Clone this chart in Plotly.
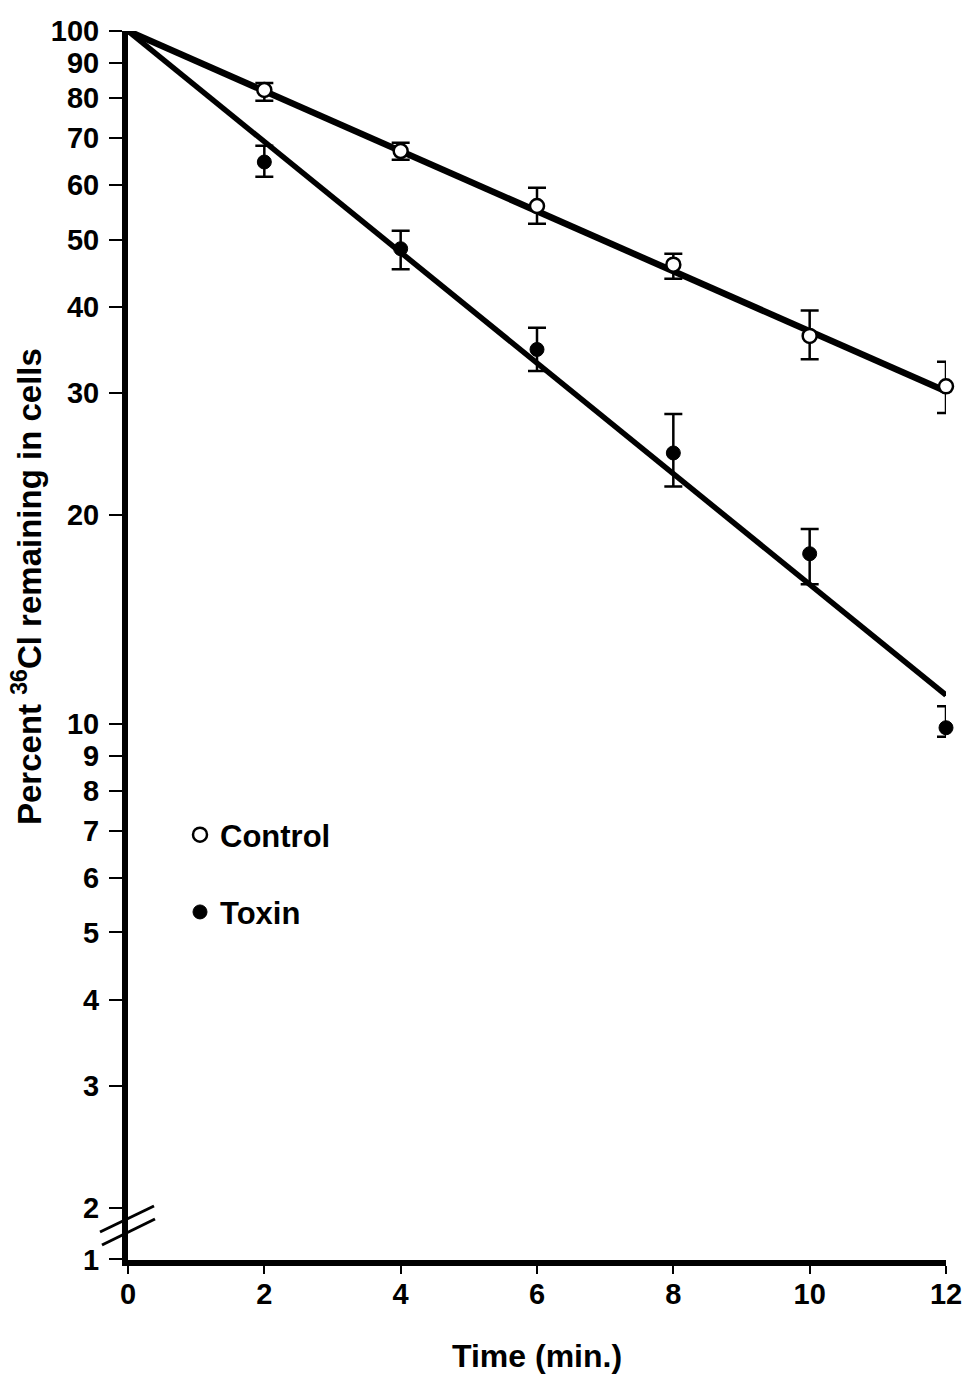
import math
import plotly.graph_objects as go

# ---------------- data ----------------
time_min = [2, 4, 6, 8, 10, 12]

control_pct = [82.2, 67.1, 55.9, 46.0, 36.3, 30.7]
control_hi = [84.1, 69.0, 59.4, 47.7, 39.5, 33.3]
control_lo = [79.3, 65.2, 52.7, 43.9, 33.6, 28.1]

toxin_pct = [64.7, 48.5, 34.7, 24.6, 17.6, 9.87]
toxin_hi = [68.3, 51.5, 37.3, 28.0, 19.1, 10.6]
toxin_lo = [61.6, 45.3, 32.3, 22.0, 15.9, 9.58]

fit_time = [0, 12]
control_fit = [100, 30.2]
toxin_fit = [100, 11.0]

x_ticks = [0, 2, 4, 6, 8, 10, 12]
y_ticks = [2, 3, 4, 5, 6, 7, 8, 9, 10, 20, 30, 40, 50, 60, 70, 80, 90, 100]
y_break_label = "1"          # label drawn at the bottom of the broken axis
y_axis_bottom = 1.683        # axis value at the bottom end (below the break)

# ---------------- geometry ----------------
W, H = 965, 1377
ML, MR, MT, MB = 128, 19, 31, 117
PW, PH = W - ML - MR, H - MT - MB


def px(x):
    return (x - ML) / PW


def py(y):
    return (H - MB - y) / PH


FONT = "Liberation Sans, Arial, sans-serif"

fig = go.Figure()

# fitted lines
fig.add_trace(go.Scatter(x=fit_time, y=control_fit, mode="lines",
                         line=dict(color="black", width=6.5),
                         showlegend=False, hoverinfo="skip"))
fig.add_trace(go.Scatter(x=fit_time, y=toxin_fit, mode="lines",
                         line=dict(color="black", width=5.5),
                         showlegend=False, hoverinfo="skip"))

# data points with error bars
fig.add_trace(go.Scatter(
    x=time_min, y=control_pct, mode="markers", name="Control",
    legendgroup="c",
    marker=dict(symbol="circle", size=14, color="white",
                line=dict(color="black", width=2.5)),
    error_y=dict(type="data", symmetric=False,
                 array=[h - v for h, v in zip(control_hi, control_pct)],
                 arrayminus=[v - l for l, v in zip(control_lo, control_pct)],
                 color="black", thickness=2.5, width=9),
    cliponaxis=False))
fig.add_trace(go.Scatter(
    x=time_min, y=toxin_pct, mode="markers", name="Toxin",
    legendgroup="t",
    marker=dict(symbol="circle", size=14, color="black",
                line=dict(color="black", width=1)),
    error_y=dict(type="data", symmetric=False,
                 array=[h - v for h, v in zip(toxin_hi, toxin_pct)],
                 arrayminus=[v - l for l, v in zip(toxin_lo, toxin_pct)],
                 color="black", thickness=2.5, width=9),
    cliponaxis=False))

tickvals = [y_axis_bottom * 1.002] + y_ticks
ticktext = [y_break_label] + [str(v) for v in y_ticks]

fig.update_layout(
    width=W, height=H,
    margin=dict(l=ML, r=MR, t=MT, b=MB, pad=0, autoexpand=False),
    paper_bgcolor="white", plot_bgcolor="white",
    font=dict(family=FONT, size=29, color="black", weight="bold"),
    showlegend=True,
    legend=dict(x=px(180), y=py(808), xanchor="left", yanchor="top",
                traceorder="grouped", tracegroupgap=34,
                font=dict(size=31, family=FONT, weight="bold"),
                bgcolor="rgba(0,0,0,0)"),
    xaxis=dict(range=[0, 12], tickvals=x_ticks, showgrid=False, zeroline=False,
               automargin=False,
               showline=True, linecolor="black", linewidth=6,
               ticks="outside", ticklen=8, tickwidth=2, tickcolor="black",
               ticklabelstandoff=-5,
               tickfont=dict(size=29, family=FONT, weight="bold")),
    yaxis=dict(type="log", range=[math.log10(y_axis_bottom), 2.0],
               tickvals=tickvals, ticktext=ticktext,
               automargin=False,
               showgrid=False, zeroline=False,
               showline=True, linecolor="black", linewidth=6,
               ticks="outside", ticklen=13, tickwidth=2, tickcolor="black",
               ticklabelstandoff=4,
               tickfont=dict(size=29, family=FONT, weight="bold")),
)

# axis titles
fig.add_annotation(text="Percent <sup>36</sup>Cl remaining in cells",
                   xref="paper", yref="paper", x=px(27), y=py(587),
                   xanchor="center", yanchor="middle", textangle=-90,
                   showarrow=False,
                   font=dict(size=33, family=FONT, weight="bold"))
fig.add_annotation(text="Time (min.)",
                   xref="paper", yref="paper", x=px(537), y=py(1356),
                   xanchor="center", yanchor="middle",
                   showarrow=False,
                   font=dict(size=32, family=FONT, weight="bold"))

# axis break marks
for (x0, y0, x1, y1) in [(100, 1232, 154, 1206), (102, 1245, 155, 1219)]:
    fig.add_shape(type="line", xref="paper", yref="paper",
                  x0=px(x0), y0=py(y0), x1=px(x1), y1=py(y1),
                  line=dict(color="black", width=3))

fig.write_html("out.html")
